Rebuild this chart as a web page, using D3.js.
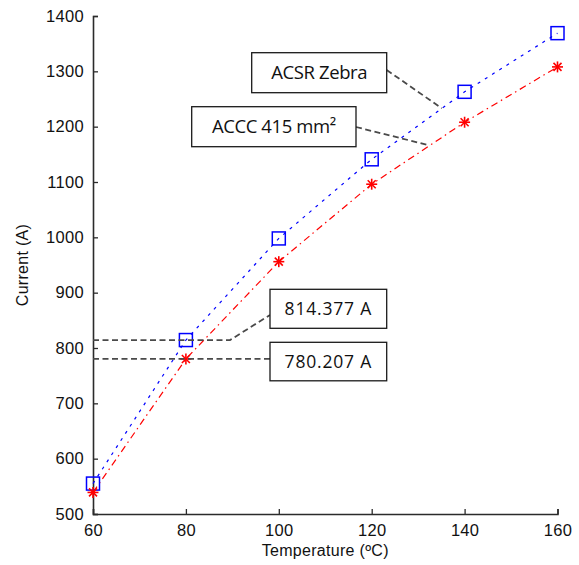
<!DOCTYPE html>
<html><head><meta charset="utf-8">
<script src="https://cdn.jsdelivr.net/npm/d3@7"></script>
<style>body{margin:0;background:#fff}</style>
</head><body><svg id="c" width="579" height="565"></svg>
<script>
// ---- data ----
const temperatures = [60, 80, 100, 120, 140, 160];
const acsrZebra = [555, 814.377, 998, 1141, 1263, 1369];
const accc415 = [539, 780.207, 956, 1096, 1208, 1308];
const xTicks = [60, 80, 100, 120, 140, 160];
const yTicks = [500, 600, 700, 800, 900, 1000, 1100, 1200, 1300, 1400];
const seriesNames = ["ACSR Zebra", "ACCC 415 mm²"];
const datatipLabels = ["814.377 A", "780.207 A"];
const xTitle = "Temperature (ºC)";
const yTitle = "Current (A)";

// ---- layout ----
const svg = d3.select("#c");
const x = d3.scaleLinear().domain([60, 160]).range([93, 557.5]);
const y = d3.scaleLinear().domain([500, 1400]).range([514, 16]);
const axisColor = "#2b2b2b";
const tickFont = "'Liberation Sans', Arial, sans-serif";
const annFont = "'Open Sans', 'Noto Sans', sans-serif";

// axes
const gx = svg.append("g").attr("transform", `translate(0,${y(500)})`)
  .call(d3.axisBottom(x).tickValues(xTicks).tickSize(-5).tickPadding(10).tickFormat(d3.format("d")));
const gy = svg.append("g").attr("transform", `translate(${x(60)},0)`)
  .call(d3.axisLeft(y).tickValues(yTicks).tickSize(-5).tickPadding(9).tickFormat(d3.format("d")));
[gx, gy].forEach(g => {
  g.select(".domain").attr("stroke", axisColor).attr("stroke-width", 1.6);
  g.selectAll(".tick line").attr("stroke", axisColor).attr("stroke-width", 1.3);
  g.selectAll(".tick text").attr("fill", "#111").style("font-family", tickFont)
    .style("font-size", "16.5px").style("letter-spacing", "0.3px");
});

svg.append("text").attr("x", (x(60) + x(160)) / 2).attr("y", 556)
  .attr("text-anchor", "middle").style("font-family", tickFont).style("font-size", "16px")
  .style("letter-spacing", "0.3px").attr("fill", "#111").text(xTitle);
svg.append("text").attr("transform", `translate(28,${y(950)}) rotate(-90)`)
  .attr("text-anchor", "middle").style("font-family", tickFont).style("font-size", "16px")
  .style("letter-spacing", "0.3px").attr("fill", "#111").text(yTitle);

// series lines
const line = d3.line().x(d => x(d[0])).y(d => y(d[1]));
const blueData = temperatures.map((t, i) => [t, acsrZebra[i]]);
const redData = temperatures.map((t, i) => [t, accc415[i]]);

svg.append("path").datum(redData).attr("d", line).attr("fill", "none")
  .attr("stroke", "#ff0000").attr("stroke-width", 1.2).attr("stroke-dasharray", "7,4,1.5,4");
svg.append("path").datum(blueData).attr("d", line).attr("fill", "none")
  .attr("stroke", "#0000ff").attr("stroke-width", 1.2).attr("stroke-dasharray", "3,5.5");

// markers
svg.append("g").selectAll("rect").data(blueData).join("rect")
  .attr("x", d => x(d[0]) - 6.5).attr("y", d => y(d[1]) - 6.5)
  .attr("width", 13).attr("height", 13).attr("fill", "none")
  .attr("stroke", "#0000ff").attr("stroke-width", 1.5);
const star = svg.append("g").selectAll("g").data(redData).join("g")
  .attr("transform", d => `translate(${x(d[0])},${y(d[1])})`);
const s = 5.5, sd = 4;
[[-s,0,s,0],[0,-s,0,s],[-sd,-sd,sd,sd],[-sd,sd,sd,-sd]].forEach(c => {
  star.append("line").attr("x1", c[0]).attr("y1", c[1]).attr("x2", c[2]).attr("y2", c[3])
    .attr("stroke", "#ff0000").attr("stroke-width", 1.6);
});

// interpolation helper for arrow tips on a series
function interp(data, t) {
  for (let i = 0; i < data.length - 1; i++) {
    if (t >= data[i][0] && t <= data[i + 1][0]) {
      const f = (t - data[i][0]) / (data[i + 1][0] - data[i][0]);
      return data[i][1] + f * (data[i + 1][1] - data[i][1]);
    }
  }
  return data[data.length - 1][1];
}

const leadStyle = sel => sel.attr("fill", "none").attr("stroke", "#4a4a4a")
  .attr("stroke-width", 1.8).attr("stroke-dasharray", "6,3.5");

function box(bx, by, w, h, label, ls, fs) {
  svg.append("rect").attr("x", bx).attr("y", by).attr("width", w).attr("height", h)
    .attr("fill", "#fff").attr("stroke", "#1a1a1a").attr("stroke-width", 1.3);
  svg.append("text").attr("x", bx + w / 2).attr("y", by + h / 2 + fs * 0.36)
    .attr("text-anchor", "middle").style("font-family", annFont).style("font-size", fs + "px")
    .style("letter-spacing", ls + "px").attr("fill", "#111").text(label);
}

// series name annotations
const tipBlueT = 135.1, tipRedT = 132.5;
svg.append("path").attr("d", d3.line()([[386.7, 70], [x(tipBlueT), y(interp(blueData, tipBlueT))]])).call(leadStyle);
svg.append("path").attr("d", d3.line()([[356, 127], [x(tipRedT), y(interp(redData, tipRedT))]])).call(leadStyle);
box(251.7, 52.7, 135, 40, seriesNames[0], -0.4, 18.5);
box(191.7, 106.7, 164.3, 40, seriesNames[1], -0.4, 18.5);

// datatip annotations
svg.append("path").attr("d", d3.line()([[x(60), y(acsrZebra[1])], [x(89.5), y(acsrZebra[1])], [270, 315]])).call(leadStyle);
svg.append("path").attr("d", d3.line()([[x(60), y(accc415[1])], [270, y(accc415[1])]])).call(leadStyle);
box(270, 289.3, 116.7, 39, datatipLabels[0], 0.8, 17.5);
box(270, 342.3, 116.7, 38.5, datatipLabels[1], 0.8, 17.5);
</script>
</body></html>
